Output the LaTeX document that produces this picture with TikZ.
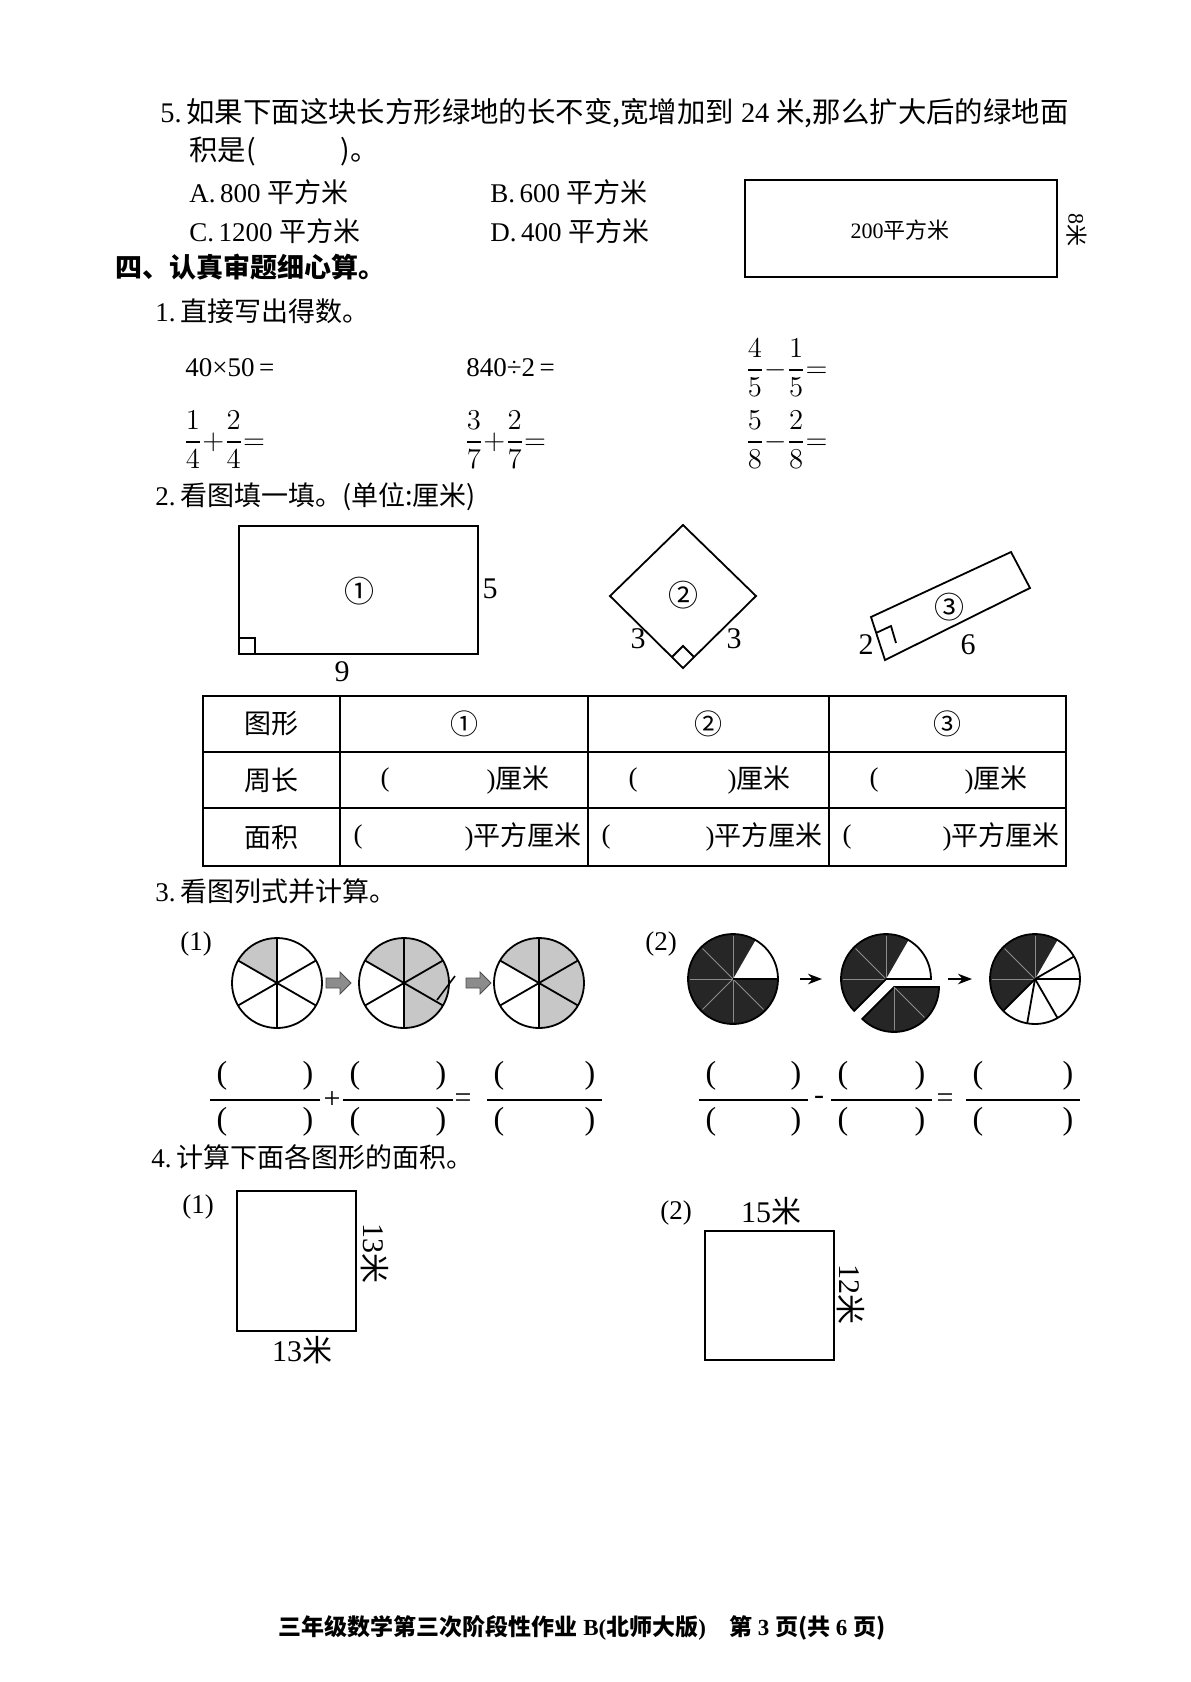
\documentclass[tikz,border=0pt]{standalone}
\usepackage{amsmath}
\usepackage{fontspec}
\setmainfont{Liberation Serif}
\newfontfamily\cjk{Noto Sans CJK SC}
\usetikzlibrary{arrows.meta}
\begin{document}
\begin{tikzpicture}[x=0.5pt,y=-0.5pt,
  t/.style={inner sep=0pt,font=\fontsize{13.5}{16}\selectfont},
  tw/.style={t,anchor=west},
  fig/.style={line width=0.9pt},
  lg/.style={fill=black!22},
  dk/.style={fill=black!85},
  gl/.style={white!55!black,line width=0.5pt},
  fl/.style={line width=0.8pt}]
\useasboundingbox (0,0) rectangle (1190,1682);
% Q5
\node[tw,font=\fontsize{14.2}{16}\selectfont] (q5) at (160,113) {5.\,{\cjk 如果下面这块长方形绿地的长不变,宽增加到} 24 {\cjk 米,那么扩大后的绿地面}};
\node[tw,font=\fontsize{14.2}{16}\selectfont] (q5b) at (189,151) {{\cjk 积是(}\hspace{3em}{\cjk )。}};
\node[tw] (oa) at (189,192) {A.\,800 {\cjk 平方米}};
\node[tw] (ob) at (490,192) {B.\,600 {\cjk 平方米}};
\node[tw] (oc) at (189,231) {C.\,1200 {\cjk 平方米}};
\node[tw] (od) at (490,231) {D.\,400 {\cjk 平方米}};
\draw[fig] (745,180) rectangle (1057,277);
\node[t,font=\fontsize{11}{13}\selectfont] (ar) at (900,230) {200{\cjk 平方米}};
\node[t,rotate=-90,font=\fontsize{11}{13}\selectfont] (w8) at (1077,230) {8{\cjk 米}};
% section 4
\node[tw,font=\cjk\bfseries\fontsize{13.5}{16}\selectfont] (s4) at (115,267) {四、认真审题细心算。};
\node[tw] (q1) at (155,311) {1.\,{\cjk 直接写出得数。}};
\node[tw] (e1) at (185,368) {40×50\,=};
\node[tw] (e2) at (466,368) {840÷2\,=};
\node[tw,font=\fontsize{14}{16}\selectfont] (e3) at (745,368) {$\dfrac{4}{5}{-}\dfrac{1}{5}{=}$};
\node[tw,font=\fontsize{14}{16}\selectfont] (e4) at (183,440) {$\dfrac{1}{4}{+}\dfrac{2}{4}{=}$};
\node[tw,font=\fontsize{14}{16}\selectfont] (e5) at (464,440) {$\dfrac{3}{7}{+}\dfrac{2}{7}{=}$};
\node[tw,font=\fontsize{14}{16}\selectfont] (e6) at (745,440) {$\dfrac{5}{8}{-}\dfrac{2}{8}{=}$};
% Q2
\node[tw] (q2) at (155,497) {2.\,{\cjk 看图填一填。(单位:厘米)}};
\draw[fig] (239,526) rectangle (478,654);
\draw[fig] (239,638) -| (255,654);
\node[t,font=\cjk\fontsize{15}{16}\selectfont] at (359,591) {①};
\node[t,font=\fontsize{15}{16}\selectfont] at (490,589) {5};
\node[t,font=\fontsize{15}{16}\selectfont] at (342,672) {9};
\draw[fig] (683,525) -- (756,596) -- (683,668) -- (610,596) -- cycle;
\draw[fig] (672,657) -- (683,646) -- (694,657);
\node[t,font=\cjk\fontsize{15}{16}\selectfont] at (683,595) {②};
\node[t,font=\fontsize{15}{16}\selectfont] at (638,639) {3};
\node[t,font=\fontsize{15}{16}\selectfont] at (734,639) {3};
\draw[fig] (1011,552) -- (1030,588) -- (885,660) -- (871,617) -- cycle;
\draw[fig] (876,633) -- (891,626) -- (896,643);
\node[t,font=\cjk\fontsize{15}{16}\selectfont] at (949,607) {③};
\node[t,font=\fontsize{15}{16}\selectfont] at (866,645) {2};
\node[t,font=\fontsize{15}{16}\selectfont] at (968,645) {6};
% table
\draw[line width=1.1pt] (203,696) rectangle (1066,866);
\foreach \y in {752,808} \draw[fig] (203,\y) -- (1066,\y);
\foreach \x in {340,588,829} \draw[fig] (\x,696) -- (\x,866);
\node[t,font=\cjk\fontsize{13.5}{16}\selectfont] at (271,724) {图形};
\node[t,font=\cjk\fontsize{13.5}{16}\selectfont] at (271,780) {周长};
\node[t,font=\cjk\fontsize{13.5}{16}\selectfont] at (271,837) {面积};
\node[t,font=\cjk\fontsize{14}{16}\selectfont] at (464,724) {①};
\node[t,font=\cjk\fontsize{14}{16}\selectfont] at (708,724) {②};
\node[t,font=\cjk\fontsize{14}{16}\selectfont] at (947,724) {③};
\foreach \x/\r in {340/588,588/829,829/1066} {
  \node[t] at (\x+45,780) {(};
  \node[t,anchor=east] at (\r-38,780) {){\cjk 厘米}};
  \node[t] at (\x+18,837) {(};
  \node[t,anchor=east] at (\r-6,837) {){\cjk 平方厘米}};
}
% Q3
\node[tw] (q3) at (155,891) {3.\,{\cjk 看图列式并计算。}};
\node[tw] at (180,944) {(1)};
\node[tw] at (645,944) {(2)};
% (1) circles
\def\sixc#1#2{%
  \begin{scope}[shift={(#1)},yscale=-1]
  \foreach \a in {#2} \fill[lg] (0,0) -- (\a:45) arc (\a:\a+60:45) -- cycle;
  \draw[fig] (0,0) circle (45);
  \foreach \a in {90,30,150} \draw[fig] (\a:45) -- (\a+180:45);
  \end{scope}}
\coordinate (c1) at (277,983);
\coordinate (c2) at (404,983);
\coordinate (c3) at (539,983);
\sixc{c1}{90}
\sixc{c2}{30,90,-30,-90}
\sixc{c3}{30,90,-30,-90}
\foreach \x in {338,478} \draw[fill=black!45,draw=black!70] (\x-12,983-5) -- (\x+2,983-5) -- (\x+2,983-11) -- (\x+13,983) -- (\x+2,983+11) -- (\x+2,983+5) -- (\x-12,983+5) -- cycle;
\draw[line width=0.8pt] (437,1000) -- (455,976);
% (2) circles
\coordinate (d1) at (733,979);
\coordinate (d2) at (886,979);
\coordinate (d3) at (1035,979);
\begin{scope}[shift={(d1)},yscale=-1]
\fill[dk] (0,0) -- (60:45) arc (60:360:45) -- cycle;
\foreach \a in {90,135,180,225,270,315} \draw[gl] (0,0) -- (\a:43);
\draw[fig] (0,0) circle (45);
\draw[fig] (0,0) -- (0:45);
\end{scope}
\begin{scope}[shift={(d2)},yscale=-1]
\fill[dk] (0,0) -- (60:45) arc (60:225:45) -- cycle;
\foreach \a in {90,135,180} \draw[gl] (0,0) -- (\a:43);
\draw[fig] (0:45) arc (0:225:45) -- (0,0) -- cycle;
\begin{scope}[shift={(8,-8)}]
\fill[dk,draw=black,line width=0.9pt] (0,0) -- (225:45) arc (225:360:45) -- cycle;
\foreach \a in {270,315} \draw[gl] (0,0) -- (\a:43);
\end{scope}
\end{scope}
\begin{scope}[shift={(d3)},yscale=-1]
\fill[dk] (0,0) -- (60:45) arc (60:225:45) -- cycle;
\foreach \a in {90,135,180} \draw[gl] (0,0) -- (\a:43);
\draw[fig] (0,0) circle (45);
\foreach \a in {0,30,225,260,300} \draw[fig] (0,0) -- (\a:45);
\end{scope}
\draw[-{Stealth[length=7pt]},line width=1pt] (800,979) -- (822,979);
\draw[-{Stealth[length=7pt]},line width=1pt] (948,979) -- (972,979);
% fraction blanks
\def\fb#1#2{\draw[fl] (#1,1100) -- (#2,1100);
  \node[t,font=\fontsize{16}{18}\selectfont] at (#1+12,1076) {(};
  \node[t,font=\fontsize{16}{18}\selectfont] at (#2-12,1076) {)};
  \node[t,font=\fontsize{16}{18}\selectfont] at (#1+12,1122) {(};
  \node[t,font=\fontsize{16}{18}\selectfont] at (#2-12,1122) {)};}
\fb{210}{320}\fb{343}{453}\fb{487}{602}
\fb{699}{808}\fb{831}{932}\fb{966}{1080}
\node[t,font=\fontsize{15}{16}\selectfont] at (332,1100) {+};
\node[t,font=\fontsize{15}{16}\selectfont] at (463,1101) {=};
\node[t,font=\fontsize{15}{16}\selectfont] at (819,1100) {-};
\node[t,font=\fontsize{15}{16}\selectfont] at (945,1101) {=};
% Q4
\node[tw] (q4) at (151,1157) {4.\,{\cjk 计算下面各图形的面积。}};
\node[tw] at (182,1207) {(1)};
\node[tw] at (660,1213) {(2)};
\draw[fig] (237,1191) rectangle (356,1331);
\node[t,rotate=-90,font=\fontsize{15}{16}\selectfont] at (375,1253) {13{\cjk 米}};
\node[t,font=\fontsize{15}{16}\selectfont] at (302,1350) {13{\cjk 米}};
\draw[fig] (705,1231) rectangle (834,1360);
\node[t,font=\fontsize{15}{16}\selectfont] at (771,1211) {15{\cjk 米}};
\node[t,rotate=-90,font=\fontsize{15}{16}\selectfont] at (851,1294) {12{\cjk 米}};
% footer
\node[t,font=\bfseries\fontsize{11.5}{14}\selectfont] (ft) at (582,1628) {{\cjk 三年级数学第三次阶段性作业} B({\cjk 北师大版})\quad {\cjk 第} 3 {\cjk 页(共} 6 {\cjk 页)}};
\end{tikzpicture}
\end{document}
